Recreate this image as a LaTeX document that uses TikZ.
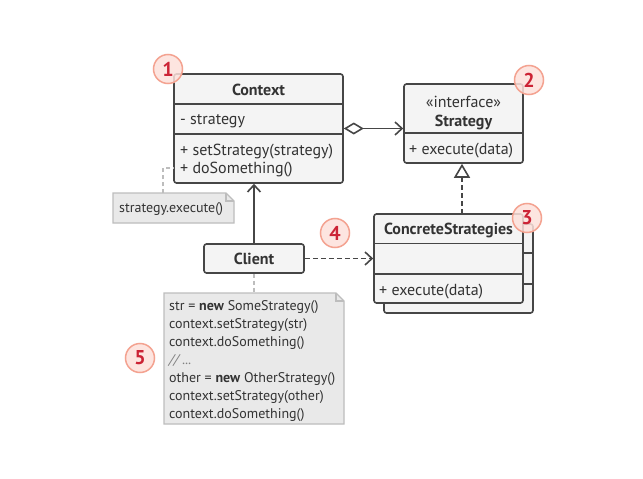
\documentclass[tikz,border=0pt]{standalone}
\usepackage{fontspec}
\setmainfont{PT Sans}
\usetikzlibrary{arrows.meta,shapes.geometric}
\definecolor{lc}{HTML}{464646}
\definecolor{boxfill}{HTML}{F4F4F4}
\definecolor{txt}{HTML}{333333}
\definecolor{notefill}{HTML}{E9E9E9}
\definecolor{notedraw}{HTML}{BDBDBD}
\definecolor{badgefill}{HTML}{FDE1DB}
\definecolor{badgedraw}{HTML}{F4A290}
\definecolor{badgetxt}{HTML}{CC2335}
\tikzset{
  umlbox/.style={draw=lc, fill=boxfill, line width=1.6pt, rounded corners=2.5pt, inner sep=0pt},
  divider/.style={draw=lc, line width=1.6pt},
  lbl/.style={anchor=west, inner sep=0pt, text=txt, font=\fontsize{16}{18}\selectfont},
  title/.style={inner sep=0pt, text=txt, font=\fontsize{16}{18}\selectfont\bfseries},
  notetxt/.style={anchor=west, inner sep=0pt, text=txt, font=\fontsize{14}{16}\selectfont},
  notebox/.style={draw=notedraw, fill=notefill, line width=1.2pt},
  badge/.style={circle, draw=badgedraw, fill=badgefill, fill opacity=0.85, text opacity=1, line width=1.5pt, minimum size=29pt, inner sep=0pt, text=badgetxt, font=\fontsize{20}{20}\selectfont\bfseries},
  conn/.style={draw=lc, line width=1.6pt},
  notelink/.style={draw=notedraw, line width=1.3pt, dash pattern=on 4pt off 3pt},
}
\begin{document}
\begin{tikzpicture}[x=1pt,y=-1pt]
\useasboundingbox (0,0) rectangle (643,479);
\fill[white] (0,0) rectangle (643,479);

% Context
\node[umlbox, minimum width=169pt, minimum height=109pt] (ctx) at (258.5,128.5) {};
\draw[divider] (174,104) -- (343,104);
\draw[divider] (174,134) -- (343,134);
\node[title] (ctxt) at (258.5,90) {Context};
\node[lbl] (ctxa) at (180,121.5) {- strategy};
\node[lbl] (ctxm1) at (180,151.5) {+ setStrategy(strategy)};
\node[lbl] (ctxm2) at (180,170) {+ doSomething()};

% Strategy
\node[umlbox, minimum width=119pt, minimum height=79pt] (strat) at (463.5,123.5) {};
\draw[divider] (404,133) -- (523,133);
\node[inner sep=0pt, text=txt, font=\fontsize{16}{18}\selectfont] (stri) at (463.5,101.5) {«interface»};
\node[title] (strt) at (463.5,122) {Strategy};
\node[lbl] (strm) at (409,150.5) {+ execute(data)};

% ConcreteStrategies (stacked)
\node[umlbox, minimum width=149pt, minimum height=89pt] (csback) at (458.5,268.5) {};
\draw[divider] (523,253) -- (533,253);
\draw[divider] (523,284) -- (533,284);
\node[umlbox, minimum width=149pt, minimum height=89pt] (cs) at (448.5,258.5) {};
\draw[divider] (374,243.5) -- (523,243.5);
\draw[divider] (374,274) -- (523,274);
\node[title] (cst) at (448.5,230.5) {ConcreteStrategies};
\node[lbl] (csm) at (379,291.5) {+ execute(data)};

% Client
\node[umlbox, minimum width=100pt, minimum height=29pt, font=\fontsize{16}{18}\selectfont\bfseries, text=txt] (client) at (254,258.5) {Client};

% Note 1
\draw[notebox] (113,193) -- (226,193) -- (234,201) -- (234,223) -- (113,223) -- cycle;
\draw[notedraw, line width=1.2pt] (226,193) -- (226,201) -- (234,201);
\node[notetxt] (n1) at (119,209.5) {strategy.execute()};
\coordinate (n1top) at (163,193);
\draw[notelink] (n1top) -- (163,168) -- (ctx.west |- 0,168);

% Note 2
\draw[notebox] (164,293) -- (336,293) -- (344,301) -- (344,424) -- (164,424) -- cycle;
\draw[notedraw, line width=1.2pt] (336,293) -- (336,301) -- (344,301);
\coordinate (n2top) at (254,293);
\draw[notelink] (client.south) -- (n2top);
\node[notetxt] (l1) at (169,307) {str = \textbf{new} SomeStrategy()};
\node[notetxt] (l2) at (169,325) {context.setStrategy(str)};
\node[notetxt] (l3) at (169,343) {context.doSomething()};
\node[notetxt, text=gray] (l4) at (169,361) {\textit{// ...}};
\node[notetxt] (l5) at (169,379) {other = \textbf{new} OtherStrategy()};
\node[notetxt] (l6) at (169,397) {context.setStrategy(other)};
\node[notetxt] (l7) at (169,415) {context.doSomething()};

% Connectors
\draw[conn, {Diamond[open, length=20pt, width=12pt, line width=1.6pt]}-{Straight Barb[length=7pt, width=13pt, line width=1.6pt]}] (ctx.east) -- (ctx.east -| strat.west);
\draw[conn, dash pattern=on 5pt off 3pt, {Triangle[open, length=14pt, width=16pt, line width=1.6pt]}-] (strat.south -| 462,0) -- (cs.north -| 462,0);
\draw[conn, -{Straight Barb[length=7pt, width=13pt, line width=1.6pt]}] (client.north) -- (client.north |- ctx.south);
\draw[conn, dash pattern=on 5pt off 3pt, -{Straight Barb[length=7pt, width=13pt, line width=1.6pt]}] (client.east) -- (client.east -| cs.west);

% Badges
\node[badge] (b1) at (168,69) {1};
\node[badge] (b2) at (529,80) {2};
\node[badge] (b3) at (527,218) {3};
\node[badge] (b4) at (335,233) {4};
\node[badge] (b5) at (140,358) {5};
\end{tikzpicture}
\end{document}
